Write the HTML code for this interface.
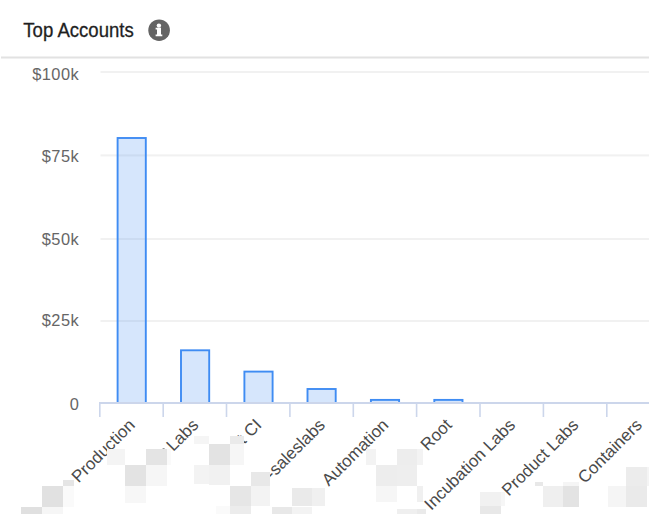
<!DOCTYPE html>
<html><head><meta charset="utf-8">
<style>
html,body{margin:0;padding:0;background:#fff;width:649px;height:514px;overflow:hidden}
svg{display:block}
text{font-family:"Liberation Sans",sans-serif}
</style></head>
<body>
<svg width="649" height="514" viewBox="0 0 649 514">
  <!-- title -->
  <text x="23.3" y="36.8" font-size="20.5" fill="#1f1f1f" stroke="#1f1f1f" stroke-width="0.3" textLength="110.5" lengthAdjust="spacingAndGlyphs">Top Accounts</text>
  <!-- info icon -->
  <circle cx="159.1" cy="30.2" r="10.8" fill="#646464"/>
  <circle cx="158.9" cy="25.6" r="2.2" fill="#fff"/>
  <path d="M155.6 27.8 H161 V34.4 H162.3 V36.2 H155.6 V34.4 H157 V29.6 H155.6 Z" fill="#fff"/>
  <!-- divider -->
  <rect x="1" y="56.5" width="648" height="2" fill="#e2e2e2"/>
  <!-- grid -->
  <g fill="#f1f1f1">
    <rect x="100.5" y="71" width="549" height="2"/>
    <rect x="100.5" y="154.4" width="549" height="2"/>
    <rect x="100.5" y="238" width="549" height="2"/>
    <rect x="100.5" y="320" width="549" height="2"/>
  </g>
  <!-- y labels -->
  <g font-size="16.4" fill="#666" text-anchor="end" letter-spacing="0.5">
    <text x="79.3" y="80.2">$100k</text>
    <text x="79.3" y="162">$75k</text>
    <text x="79.3" y="244.5">$50k</text>
    <text x="79.3" y="326.4">$25k</text>
    <text x="79.3" y="409.6">0</text>
  </g>
  <!-- bars -->
  <g fill="rgba(61,139,242,0.21)" stroke="#3f8cf3" stroke-width="1.9">
    <rect x="117.6" y="138" width="28.2" height="265"/>
    <rect x="181" y="350.3" width="28.2" height="52.7"/>
    <rect x="244.4" y="371.6" width="28.2" height="31.4"/>
    <rect x="307.5" y="389" width="28.2" height="14"/>
    <rect x="370.9" y="399.9" width="28.2" height="3.1"/>
    <rect x="434.3" y="399.9" width="28.2" height="3.1"/>
  </g>
  <!-- x axis -->
  <rect x="99" y="402" width="550" height="2" fill="#ccd6eb"/>
  <g fill="#ccd6eb">
    <rect x="99" y="402" width="1.6" height="15"/>
    <rect x="162.4" y="402" width="1.6" height="15"/>
    <rect x="225.7" y="402" width="1.6" height="15"/>
    <rect x="289.1" y="402" width="1.6" height="15"/>
    <rect x="352.5" y="402" width="1.6" height="15"/>
    <rect x="415.8" y="402" width="1.6" height="15"/>
    <rect x="479.2" y="402" width="1.6" height="15"/>
    <rect x="542.6" y="402" width="1.6" height="15"/>
    <rect x="606" y="402" width="1.6" height="15"/>
  </g>
  <!-- x labels -->
  <g font-size="17" fill="#4a4a4a" text-anchor="end">
    <text transform="translate(136,426) rotate(-45)">Production</text>
    <text transform="translate(199.4,426) rotate(-45)">Labs</text>
    <text transform="translate(262.7,426) rotate(-45)">t CI</text>
    <text transform="translate(326.1,426) rotate(-45)">-saleslabs</text>
    <text transform="translate(389.5,426) rotate(-45)">Automation</text>
    <text transform="translate(452.9,426) rotate(-45)">Root</text>
    <text transform="translate(516.2,426) rotate(-45)">Incubation Labs</text>
    <text transform="translate(579.6,426) rotate(-45)">Product Labs</text>
    <text transform="translate(643,426) rotate(-45)">Containers</text>
  </g>
  <rect x="162.6" y="448" width="2" height="1.6" fill="#9a9a9a"/>
  <!-- mosaic -->
  <g shape-rendering="crispEdges">
    <rect x="20.9" y="506.6" width="21.1" height="7.4" fill="#e0e0e0"/>
    <rect x="42" y="485.9" width="20.6" height="20.7" fill="#e1e1e1"/>
    <rect x="42" y="506.6" width="20.6" height="7.4" fill="#f6f6f6"/>
    <rect x="62.6" y="480.2" width="11.2" height="5.7" fill="#e5e5e5"/>
    <rect x="62.6" y="485.9" width="11.2" height="20.7" fill="#fafafa"/>
    <rect x="107.2" y="448.9" width="18.0" height="15.9" fill="#f4f4f4"/>
    <rect x="125.2" y="464.8" width="20.6" height="21.0" fill="#e3e3e3"/>
    <rect x="145.8" y="448.9" width="21.1" height="15.9" fill="#e4e4e4"/>
    <rect x="166.9" y="448.9" width="3.6" height="15.9" fill="#fafafa"/>
    <rect x="145.8" y="464.8" width="21.1" height="21.0" fill="#f6f6f6"/>
    <rect x="125.2" y="485.8" width="20.6" height="17.5" fill="#f7f7f7"/>
    <rect x="194" y="436.3" width="14.7" height="7.7" fill="#f5f5f5"/>
    <rect x="208.7" y="444" width="21.0" height="20.8" fill="#e3e3e3"/>
    <rect x="229.7" y="436.3" width="14.2" height="7.7" fill="#eaeaea"/>
    <rect x="229.7" y="444" width="14.2" height="20.8" fill="#f6f6f6"/>
    <rect x="194" y="464.8" width="14.7" height="19.1" fill="#f3f3f3"/>
    <rect x="208.7" y="464.8" width="21.0" height="19.7" fill="#f1f1f1"/>
    <rect x="250.5" y="472.2" width="19.9" height="13.6" fill="#e8e8e8"/>
    <rect x="229.7" y="485.8" width="20.8" height="20.6" fill="#e6e6e6"/>
    <rect x="250.5" y="485.8" width="19.9" height="20.6" fill="#f3f3f3"/>
    <rect x="229.7" y="506.4" width="20.8" height="7.6" fill="#ececec"/>
    <rect x="216.2" y="506.4" width="13.5" height="7.6" fill="#fafafa"/>
    <rect x="271.5" y="506.8" width="20.5" height="7.2" fill="#e8e8e8"/>
    <rect x="292" y="487.7" width="20.3" height="18.7" fill="#eaeaea"/>
    <rect x="312.3" y="487.7" width="12.4" height="18.7" fill="#f0f0f0"/>
    <rect x="292" y="506.6" width="20.3" height="7.4" fill="#f3f3f3"/>
    <rect x="366" y="448.6" width="9.6" height="16.2" fill="#f3f3f3"/>
    <rect x="396.7" y="448.6" width="20.6" height="16.2" fill="#ededed"/>
    <rect x="417.3" y="448.6" width="5.8" height="16.2" fill="#f3f3f3"/>
    <rect x="375.6" y="464.8" width="21.1" height="21.0" fill="#ededed"/>
    <rect x="396.7" y="464.8" width="20.6" height="21.0" fill="#eeeeee"/>
    <rect x="375.6" y="485.8" width="21.1" height="15.8" fill="#f6f6f6"/>
    <rect x="417.3" y="485.8" width="5.8" height="15.8" fill="#f0f0f0"/>
    <rect x="396.7" y="508.8" width="20.6" height="5.2" fill="#efefef"/>
    <rect x="417.3" y="508.8" width="8.2" height="5.2" fill="#eaeaea"/>
    <rect x="480.3" y="491.9" width="20.5" height="14.5" fill="#f1f1f1"/>
    <rect x="500.8" y="491.9" width="4.5" height="14.5" fill="#f6f6f6"/>
    <rect x="480.3" y="506.4" width="20.5" height="7.6" fill="#e8e8e8"/>
    <rect x="534.9" y="481.7" width="7.7" height="3.9" fill="#e8e8e8"/>
    <rect x="542.6" y="485.6" width="20.6" height="21.0" fill="#efefef"/>
    <rect x="563.2" y="485.6" width="15.9" height="21.0" fill="#e3e3e3"/>
    <rect x="563.2" y="481.7" width="15.9" height="3.9" fill="#f5f5f5"/>
    <rect x="608.1" y="485.6" width="17.8" height="21.0" fill="#f5f5f5"/>
    <rect x="625.9" y="466.5" width="21.0" height="19.1" fill="#ececec"/>
    <rect x="625.9" y="485.6" width="21.0" height="21.0" fill="#eaeaea"/>
    <rect x="646.9" y="466.5" width="2.1" height="19.1" fill="#f4f4f4"/>
  </g>
</svg>
</body></html>
